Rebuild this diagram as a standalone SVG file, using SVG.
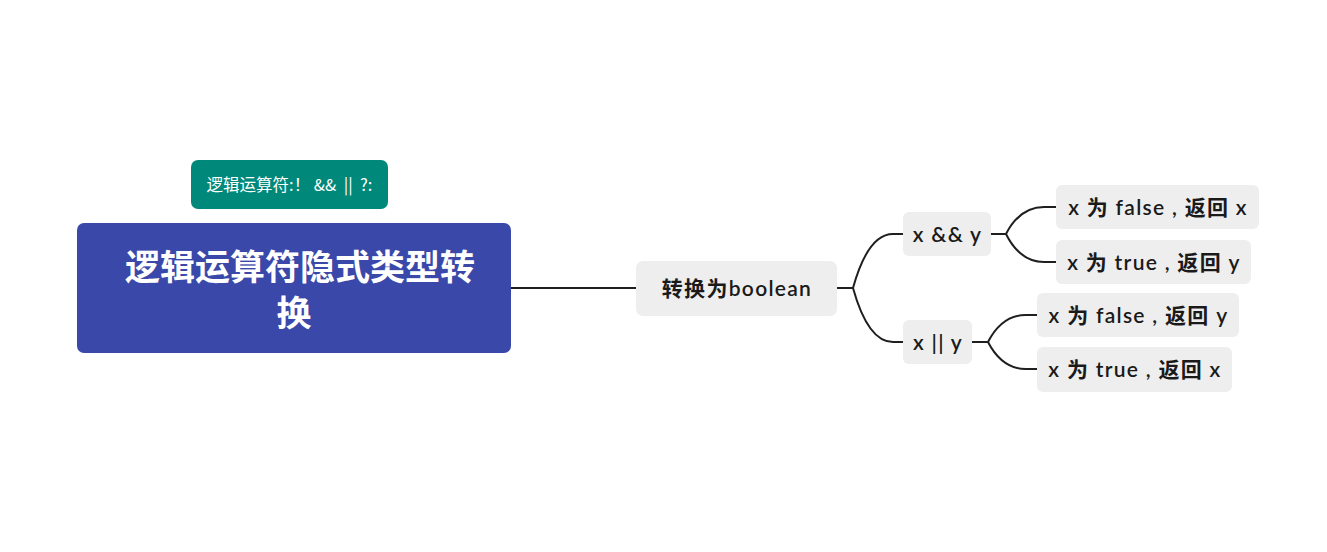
<svg xmlns="http://www.w3.org/2000/svg" width="1327" height="552" viewBox="0 0 1327 552">
  <style>
    .topic { fill: #eeeeee; }
    .label { font-family: "Lato", "Noto Sans CJK SC", sans-serif; font-size: 21px; font-weight: 600; letter-spacing: 1.3px; fill: #1a1a1a; text-anchor: middle; }
    .link { fill: none; stroke: #1f1f1f; stroke-width: 2; stroke-linecap: round; }
  </style>
  <rect width="1327" height="552" fill="#ffffff"/>

  <g id="connectors">
    <path class="link" d="M511,288 H636"/>
    <path class="link" d="M837,288 H853 Q868,234 893,234 H903"/>
    <path class="link" d="M837,288 H853 Q868,342 893,342 H903"/>
    <path class="link" d="M991,234 H1006 Q1020,207 1044,207 H1056"/>
    <path class="link" d="M991,234 H1006 Q1020,262 1044,262 H1056"/>
    <path class="link" d="M972,342 H988 Q1002,315 1026,315 H1037"/>
    <path class="link" d="M972,342 H988 Q1002,369 1026,369 H1037"/>
  </g>

  <g id="note">
    <rect x="191" y="160" width="197" height="49" rx="7" fill="#00897b"/>
    <text x="289.5" y="191" font-family="'Noto Sans CJK SC', sans-serif" font-size="16.5" fill="#ffffff" text-anchor="middle" xml:space="preserve">逻辑运算符:！ &amp;&amp;  ||  ?:</text>
  </g>

  <g id="root">
    <rect x="77" y="223" width="434" height="130" rx="7" fill="#3a48a9"/>
    <text font-family="'Noto Sans CJK SC', sans-serif" font-size="35" font-weight="bold" fill="#ffffff" text-anchor="middle">
      <tspan x="304" y="280">逻辑运算符隐式类型转</tspan>
      <tspan x="294" y="326">换</tspan>
    </text>
  </g>

  <g id="to-boolean">
    <rect class="topic" x="636" y="261" width="201" height="55" rx="7"/>
    <text class="label" x="737" y="296" font-weight="bold">转换为boolean</text>
  </g>

  <g id="and">
    <rect class="topic" x="903" y="212" width="88" height="44" rx="6"/>
    <text class="label" x="947.5" y="242">x &amp;&amp; y</text>
  </g>

  <g id="or">
    <rect class="topic" x="903" y="320" width="69" height="44" rx="6"/>
    <text class="label" x="938" y="350">x || y</text>
  </g>

  <g id="and-false">
    <rect class="topic" x="1056" y="185" width="203" height="44" rx="6"/>
    <text class="label" x="1158" y="215">x 为 false , 返回 x</text>
  </g>

  <g id="and-true">
    <rect class="topic" x="1056" y="240" width="195" height="44" rx="6"/>
    <text class="label" x="1154" y="270">x 为 true , 返回 y</text>
  </g>

  <g id="or-false">
    <rect class="topic" x="1037" y="293" width="202" height="44" rx="6"/>
    <text class="label" x="1138.5" y="323">x 为 false , 返回 y</text>
  </g>

  <g id="or-true">
    <rect class="topic" x="1037" y="347" width="195" height="45" rx="6"/>
    <text class="label" x="1135" y="377">x 为 true , 返回 x</text>
  </g>
</svg>
